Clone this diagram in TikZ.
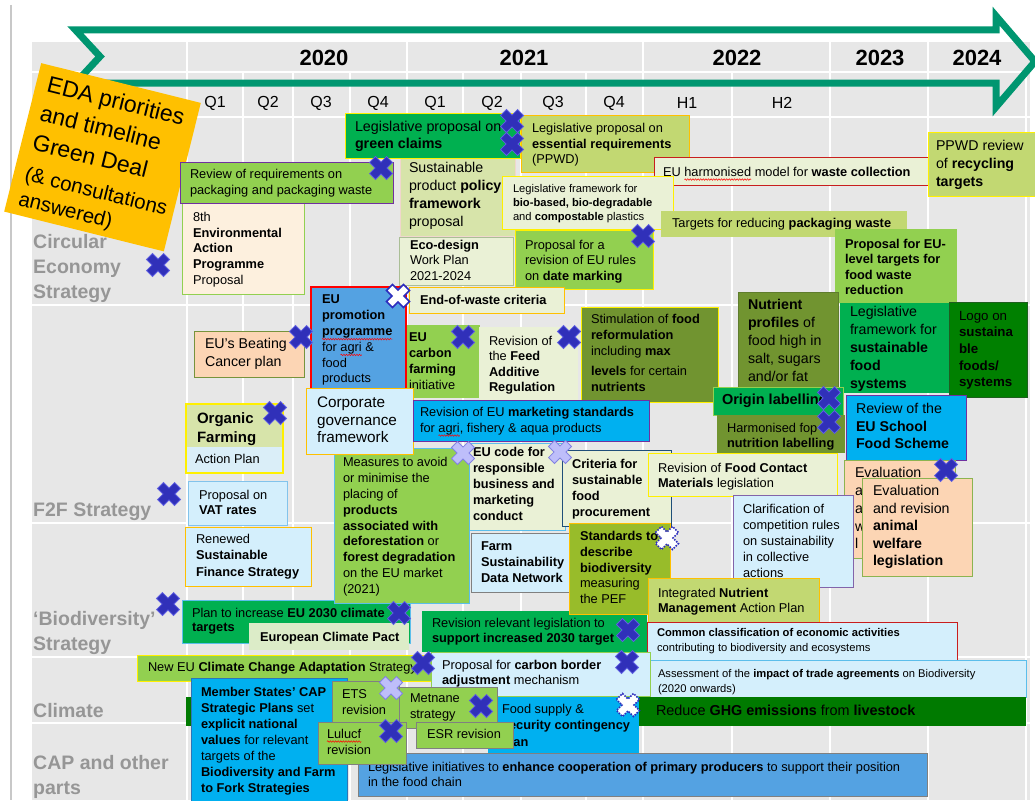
\documentclass[tikz,border=0pt]{standalone}
\usepackage{fontspec}
\setmainfont{Liberation Sans}
\usetikzlibrary{decorations.pathmorphing}
\definecolor{cSide}{RGB}{200,200,200}
\definecolor{cGrid}{RGB}{231,231,231}
\definecolor{cArrow}{RGB}{0,150,112}
\definecolor{cOrange}{RGB}{255,192,0}
\definecolor{cLab}{RGB}{150,150,150}
\definecolor{cG1}{RGB}{146,208,80}
\definecolor{cG2}{RGB}{0,176,80}
\definecolor{cOlive}{RGB}{113,148,48}
\definecolor{cOliveD}{RGB}{95,125,45}
\definecolor{cOliveL}{RGB}{194,216,114}
\definecolor{cOliveB}{RGB}{119,147,60}
\definecolor{cSPP}{RGB}{215,228,170}
\definecolor{cSPPb}{RGB}{240,215,205}
\definecolor{cVL}{RGB}{234,241,214}
\definecolor{cEcoB}{RGB}{170,190,150}
\definecolor{cPact}{RGB}{220,236,200}
\definecolor{cCream}{RGB}{253,240,222}
\definecolor{cPeach}{RGB}{252,213,180}
\definecolor{cEvB}{RGB}{140,180,80}
\definecolor{cCyan}{RGB}{0,176,240}
\definecolor{cBlue}{RGB}{84,162,226}
\definecolor{cLC}{RGB}{212,239,252}
\definecolor{cLCb}{RGB}{218,238,248}
\definecolor{cVatB}{RGB}{130,195,235}
\definecolor{cLB}{RGB}{91,190,235}
\definecolor{cDG}{RGB}{0,128,0}
\definecolor{cDGb}{RGB}{30,95,30}
\definecolor{cGHG}{RGB}{0,122,0}
\definecolor{cStd}{RGB}{152,188,42}
\definecolor{cPurple}{RGB}{112,48,160}
\definecolor{cClarB}{RGB}{130,100,170}
\definecolor{cRed}{RGB}{200,30,30}
\definecolor{cRedB}{RGB}{255,0,0}
\definecolor{cYel}{RGB}{255,240,0}
\definecolor{cOrB}{RGB}{255,192,0}
\definecolor{cCritB}{RGB}{31,78,121}
\definecolor{cMSb}{RGB}{46,117,182}
\definecolor{cGrayB}{RGB}{128,128,128}
\definecolor{cXb}{RGB}{48,48,185}
\definecolor{cXbo}{RGB}{95,95,225}
\definecolor{cXl}{RGB}{190,190,250}
\definecolor{cXlo}{RGB}{130,130,225}
\definecolor{cXwo}{RGB}{45,45,190}
\tikzset{
  tb/.style={rectangle, inner sep=0pt, outer sep=0pt, anchor=north west, line width=0.8pt},
  tx/.style={anchor=north west, inner sep=0pt, outer sep=0pt, align=left, text=black},
  rl/.style={anchor=north west, inner sep=0pt, align=left, text=cLab, font=\bfseries\fontsize{19.5}{25}\selectfont},
  yr/.style={inner sep=0pt, font=\bfseries\fontsize{22}{26}\selectfont},
  qt/.style={inner sep=0pt, font=\fontsize{16}{19}\selectfont},
  edat/.style={anchor=base west, inner sep=0pt, transform shape},
  gridline/.style={white, line width=2.2pt},
  squig/.style={cRedB, line width=0.5pt, decorate, decoration={snake, amplitude=0.8pt, segment length=2.6pt}},
  pics/xmark/.style={code={\path[#1, rotate=45] (-4.2,-12)--(4.2,-12)--(4.2,-4.2)--(12,-4.2)--(12,4.2)--(4.2,4.2)--(4.2,12)--(-4.2,12)--(-4.2,4.2)--(-12,4.2)--(-12,-4.2)--(-4.2,-4.2)--cycle;}},
  xb/.style={fill=cXb, draw=cXbo, line width=0.8pt},
  xl/.style={fill=cXl, draw=cXlo, line width=0.8pt},
  xw/.style={fill=white, draw=cXwo, line width=1.6pt},
  xd/.style={fill=white, draw=cXwo, line width=1.6pt, dash pattern=on 1.5pt off 1.3pt},
}
\newcommand\boxat[6]{\pgfmathsetmacro\bwd{#4-#2}\pgfmathsetmacro\bht{#5-#3}%
  \node[tb,#6,minimum width=\bwd pt,minimum height=\bht pt] (#1) at (#2,#3) {};}
\newcommand\btxt[6]{\node[tx,font=\fontsize{#4}{#5}\selectfont] (#1) at (#2,{#3-0.38*#4}) {#6};}
\newcommand\wavy[4]{\draw[squig] ([shift={(#2,#4)}]#1.north west) -- ([shift={(#3,#4)}]#1.north west);}
\begin{document}
\begin{tikzpicture}[x=1pt,y=-1pt]
\useasboundingbox (0,0) rectangle (1035,800);
\clip (0,0) rectangle (1035,800);
\fill[white] (0,0) rectangle (1035,800);
\draw[cSide, line width=1.2pt] (11,5) -- (11,800);
\fill[cGrid] (32,42) rectangle (1030,800);
\foreach \x in {187,407,643,830,928} \draw[gridline] (\x,42) -- (\x,72);
\foreach \x in {187,243,293,350,407,463,521,586,643,732,830,928,1026} \draw[gridline] (\x,72) -- (\x,800);
\foreach \y in {72,117,305,523,657,723} \draw[gridline] (32,\y) -- (1030,\y);

% years and quarters
\node[yr] (y2020) at (324,58) {2020};
\node[yr] (y2021) at (524,58) {2021};
\node[yr] (y2022) at (737,58) {2022};
\node[yr] (y2023) at (880,58) {2023};
\node[yr] (y2024) at (977,58) {2024};
\node[qt] (qa1) at (215,103) {Q1};
\node[qt] (qa2) at (268,103) {Q2};
\node[qt] (qa3) at (321,103) {Q3};
\node[qt] (qa4) at (378,103) {Q4};
\node[qt] (qb1) at (435,103) {Q1};
\node[qt] (qb2) at (492,103) {Q2};
\node[qt] (qb3) at (553,103) {Q3};
\node[qt] (qb4) at (614,103) {Q4};
\node[qt] (qc1) at (687,103) {H1};
\node[qt] (qc2) at (782,103) {H2};

% arrow
\draw[cArrow, line width=7pt, line join=miter] (75.5,30) -- (996,30) -- (996,16) -- (1035,61.5) -- (996,107) -- (996,83) -- (75.5,83) -- (100,56.5) -- cycle;

% row labels
\node[rl] (lce) at (33,{242-0.38*19.5}) {Circular\\Economy\\Strategy};
\node[rl] (lf2f) at (33,{510-0.38*19.5}) {F2F Strategy};
\node[rl] (lbio) at (33,{619-0.38*19.5}) {‘Biodiversity’\\Strategy};
\node[rl] (lcli) at (33,{711-0.38*19.5}) {Climate};
\node[rl] (lcap) at (33,{763-0.38*19.5}) {CAP and other\\parts};

% orange title card
\begin{scope}[shift={(102.5,157.25)}, rotate=-14]
\node[fill=cOrange, minimum width=164.5pt, minimum height=153pt, inner sep=0pt, transform shape] (eda) at (0,0) {};
\node[edat, font=\fontsize{23}{28}\selectfont] (eda1) at (-71,-49.9) {EDA priorities};
\node[edat, font=\fontsize{23}{28}\selectfont] (eda2) at (-71,-20.5) {and timeline};
\node[edat, font=\fontsize{23}{28}\selectfont] (eda3) at (-71,9.95) {Green Deal};
\node[edat, font=\fontsize{20.5}{25}\selectfont] (eda4) at (-71,41.3) {(\& consultations};
\node[edat, font=\fontsize{20.5}{25}\selectfont] (eda5) at (-71,67.1) {answered)};
\end{scope}

% ---------- Circular economy ----------
\boxat{eap}{182}{203}{304}{294}{fill=cCream,draw=cG1}
\btxt{eapt}{193}{217}{12.8}{15.75}{8th\\\textbf{Environmental}\\\textbf{Action}\\\textbf{Programme}\\Proposal}
\boxat{rev}{180}{162}{393}{203}{fill=cG1,draw=cPurple}
\btxt{revt}{190}{174.5}{12.8}{15.5}{Review of requirements on\\packaging and packaging waste}
\boxat{spp}{400}{158}{515}{236}{fill=cSPP,draw=cSPPb}
\btxt{sppt}{409}{168}{14.2}{18}{Sustainable\\product \textbf{policy}\\\textbf{framework}\\proposal}
\boxat{eco}{399}{237}{513}{285}{fill=cVL,draw=cEcoB}
\btxt{ecot}{410}{245}{12.8}{15.5}{\textbf{Eco-design}\\Work Plan\\2021-2024}
\boxat{gc}{345}{113}{520}{158}{fill=cG2,draw=cYel}
\btxt{gct}{355}{127}{14.3}{17}{Legislative proposal on\\\textbf{green claims}}
\boxat{ess}{521}{115}{689}{172}{fill=cOliveL,draw=cOrB}
\btxt{esst}{532}{128}{12.8}{15.6}{Legislative proposal on\\\textbf{essential requirements}\\(PPWD)}
\boxat{harm}{654}{157}{930}{185}{fill=cVL,draw=cRed}
\btxt{harmt}{663}{172}{12.8}{16}{EU harmonised model for \textbf{waste collection}}
\wavy{harmt}{21.3}{88}{12.4}
\boxat{bio}{502}{176}{673}{229}{fill=cVL,draw=cYel}
\btxt{biot}{513}{189}{11.2}{14}{Legislative framework for\\\textbf{bio-based, bio-degradable}\\and \textbf{compostable} plastics}
\boxat{tgt}{661}{211}{907}{237}{fill=cOliveL}
\btxt{tgtt}{672}{223}{12.8}{16}{Targets for reducing \textbf{packaging waste}}
\boxat{date}{515}{230}{653}{289}{fill=cG1,draw=cYel}
\btxt{datet}{525}{245}{12.8}{15.5}{Proposal for a\\revision of EU rules\\on \textbf{date marking}}
\boxat{eow}{409}{287}{564}{313}{fill=cVL,draw=cOrB}
\btxt{eowt}{420}{300}{12.8}{16}{\textbf{End-of-waste criteria}}
\boxat{ppwd}{928}{132}{1040}{196}{fill=cOliveL,draw=cYel}
\btxt{ppwdt}{936}{146}{14.2}{18}{PPWD review\\of \textbf{recycling}\\\textbf{targets}}
\boxat{sfs}{840}{303}{949}{393}{fill=cG2}
\btxt{sfst}{850}{312}{14.2}{17.8}{Legislative\\framework for\\\textbf{sustainable}\\\textbf{food}\\\textbf{systems}}
\boxat{fw}{835}{229}{957}{303}{fill=cG1}
\btxt{fwt}{845}{244}{12.8}{15.3}{\textbf{Proposal for EU-}\\\textbf{level targets for}\\\textbf{food waste}\\\textbf{reduction}}
\boxat{logo}{949}{302}{1027}{397}{fill=cDG,draw=cDGb}
\btxt{logot}{959}{316}{13.3}{16.7}{Logo on\\\textbf{sustaina}\\\textbf{ble}\\\textbf{foods/}\\\textbf{systems}}

% ---------- F2F ----------
\boxat{canc}{194}{331}{304}{377}{fill=cPeach,draw=cOliveB}
\btxt{canct}{205}{344}{14.2}{18}{EU’s Beating\\Cancer plan}
\boxat{carb}{400}{325}{480}{398}{fill=cG1}
\btxt{carbt}{409}{338}{12.8}{15.7}{\textbf{EU}\\\textbf{carbon}\\\textbf{farming}\\initiative}
\boxat{prom}{311}{287}{406}{392}{fill=cBlue,draw=cRedB,line width=1.2pt}
\btxt{promt}{322}{300}{12.8}{15.8}{\textbf{EU}\\\textbf{promotion}\\\textbf{programme}\\for agri \&\\food\\products}
\wavy{promt}{0}{70.4}{44}
\wavy{promt}{18.5}{39.8}{59.8}
\boxat{feed}{479}{327}{578}{402}{fill=cVL}
\btxt{feedt}{489}{341}{12.8}{15.4}{Revision of\\the \textbf{Feed}\\\textbf{Additive}\\\textbf{Regulation}}
\boxat{stim}{581}{307}{718}{402}{fill=cOlive,draw=cYel}
\btxt{stimt}{591}{319}{12.8}{16}{Stimulation of \textbf{food}\\\textbf{reformulation}\\including \textbf{max}\\[4pt]\textbf{levels} for certain\\\textbf{nutrients}}
\boxat{nut}{738}{292}{838}{387}{fill=cOlive,draw=cOliveD}
\btxt{nutt}{748}{305}{14.2}{18}{\textbf{Nutrient}\\\textbf{profiles} of\\food high in\\salt, sugars\\and/or fat}
\boxat{orig}{713}{387}{843}{415}{fill=cG2,draw=cG1}
\btxt{origt}{722}{399}{14.5}{17}{\textbf{Origin labelling}}
\boxat{fop}{717}{415}{845}{453}{fill=cOlive}
\btxt{fopt}{727}{428}{12.8}{15}{Harmonised fop\\\textbf{nutrition labelling}}
\boxat{school}{846}{395}{966}{460}{fill=cCyan,draw=cPurple}
\btxt{schoolt}{856}{409}{14.2}{17.5}{Review of the\\\textbf{EU School}\\\textbf{Food Scheme}}
\boxat{plan}{182}{600}{410}{643}{fill=cG2,draw=cLB}
\btxt{plant}{192}{613}{12.8}{15}{Plan to increase \textbf{EU 2030 climate}}
\btxt{plant2}{192}{628}{12.8}{15}{\textbf{targets}}
\boxat{defo}{334}{448}{469}{603}{fill=cG1,draw=cLB}
\btxt{defot}{343}{462}{12.8}{15.9}{Measures to avoid\\or minimise the\\placing of\\\textbf{products}\\\textbf{associated with}\\\textbf{deforestation} or\\\textbf{forest degradation}\\on the EU market\\(2021)}
\boxat{corp}{306}{388}{413}{454}{fill=cLC,draw=cOrB}
\btxt{corpt}{317}{403}{15.3}{17.5}{Corporate\\governance\\framework}
\boxat{mkt}{413}{400}{649}{441}{fill=cCyan,draw=cPurple}
\btxt{mktt}{420}{412}{12.8}{16}{Revision of EU \textbf{marketing standards}\\for agri, fishery \& aqua products}
\wavy{mktt}{18.5}{39.8}{28.4}
\boxat{orgA}{186}{404}{283}{447}{fill=cSPP}
\boxat{orgB}{186}{447}{283}{473}{fill=cLCb}
\boxat{org}{186}{404}{283}{473}{draw=cYel,line width=2.2pt}
\btxt{orgt}{197}{418}{15}{19}{\textbf{Organic}\\\textbf{Farming}}
\btxt{orgt2}{195}{459}{12.8}{16}{Action Plan}
\boxat{vat}{188}{481}{287}{525}{fill=cLC,draw=cVatB}
\btxt{vatt}{199}{495}{12.8}{15}{Proposal on\\\textbf{VAT rates}}
\boxat{fin}{185}{527}{311}{586}{fill=cLC,draw=cOrB}
\btxt{fint}{196}{539}{12.8}{16.5}{Renewed\\\textbf{Sustainable}\\\textbf{Finance Strategy}}
\boxat{code}{469}{443}{565}{530}{fill=cVL,draw=cLB}
\btxt{codet}{473}{452}{12.8}{16}{\textbf{EU code for}\\\textbf{responsible}\\\textbf{business and}\\\textbf{marketing}\\\textbf{conduct}}
\boxat{crit}{562}{450}{671}{526}{fill=cVL,draw=cCritB}
\btxt{critt}{572}{464}{12.8}{16}{\textbf{Criteria for}\\\textbf{sustainable}\\\textbf{food}\\\textbf{procurement}}
\boxat{fcm}{648}{453}{837}{496}{fill=cVL,draw=cYel}
\btxt{fcmt}{658}{468}{12.8}{15}{Revision of \textbf{Food Contact}\\\textbf{Materials} legislation}
\boxat{evb}{844}{460}{955}{558}{fill=cPeach,draw=cEvB}
\btxt{evbt}{855}{473}{14.2}{17.7}{Evaluation\\a\\a\\w\\l}
\boxat{clar}{733}{495}{853}{587}{fill=cLC,draw=cClarB}
\btxt{clart}{743}{509}{12.8}{16}{Clarification of\\competition rules\\on sustainability\\in collective\\actions}
\boxat{evf}{862}{478}{972}{576}{fill=cPeach,draw=cEvB}
\btxt{evft}{873}{491}{14.2}{17.5}{Evaluation\\and revision\\\textbf{animal}\\\textbf{welfare}\\\textbf{legislation}}
\boxat{farm}{471}{533}{571}{592}{fill=cLC,draw=cGrayB}
\btxt{farmt}{481}{547}{12.8}{16}{\textbf{Farm}\\\textbf{Sustainability}\\\textbf{Data Network}}
\boxat{rrl}{422}{611}{647}{652}{fill=cG2}
\btxt{rrlt}{432}{623}{12.8}{15}{Revision relevant legislation to\\\textbf{support increased 2030 target}}
\boxat{std}{569}{523}{670}{614}{fill=cStd,draw=cOrB}
\btxt{stdt}{580}{536}{12.8}{16}{\textbf{Standards to}\\\textbf{describe}\\\textbf{biodiversity}}
\btxt{stdt2}{580}{583}{12.8}{16.5}{measuring\\the PEF}
\boxat{inm}{648}{578}{819}{622}{fill=cOliveL,draw=cOrB}
\btxt{inmt}{658}{593}{12.8}{15}{Integrated \textbf{Nutrient}\\\textbf{Management} Action Plan}

% ---------- Biodiversity ----------
\boxat{pact}{249}{623}{409}{650}{fill=cPact}
\btxt{pactt}{260}{637.5}{12.8}{16}{\textbf{European Climate Pact}}
\boxat{ccl}{647}{622}{957}{660}{fill=cLC,draw=cRed}
\btxt{cclt}{657}{633}{11.2}{15}{\textbf{Common classification of economic activities}\\contributing to biodiversity and ecosystems}
\boxat{trade}{649}{660}{1026}{697}{fill=cLC,draw=cLB}
\btxt{tradet}{658}{674}{11.2}{14.5}{Assessment of the \textbf{impact of trade agreements} on Biodiversity\\(2020 onwards)}
\boxat{adapt}{137}{655}{432}{681}{fill=cG1,draw=cYel}
\btxt{adaptt}{148}{667}{12.8}{16}{New EU \textbf{Climate Change Adaptation} Strategy}
\boxat{cbam}{431}{652}{650}{696}{fill=cLC,draw=cG1}
\btxt{cbamt}{442}{665}{12.8}{15}{Proposal for \textbf{carbon border}\\\textbf{adjustment} mechanism}

% ---------- Climate / CAP ----------
\boxat{ghg}{186}{697}{1026}{726}{fill=cGHG}
\btxt{ghgt}{656}{711}{14.4}{17}{Reduce \textbf{GHG emissions} from \textbf{livestock}}
\boxat{ms}{191}{678}{347}{810}{fill=cCyan,draw=cMSb}
\btxt{mst}{201}{692}{12.8}{16}{\textbf{Member States’ CAP}\\\textbf{Strategic Plans} set\\\textbf{explicit national}\\\textbf{values} for relevant\\targets of the}
\btxt{mst2}{201}{772}{12.8}{16}{\textbf{Biodiversity and Farm}\\\textbf{to Fork Strategies}}
\boxat{coop}{358}{753}{927}{796}{fill=cBlue,draw=cGrayB}
\btxt{coopt}{368}{767}{12.8}{15}{Legislative initiatives to \textbf{enhance cooperation of primary producers} to support their position\\in the food chain}
\boxat{food}{488}{697}{639}{753}{fill=cCyan}
\btxt{foodt}{502}{709}{12.8}{16.5}{Food supply \&\\\textbf{security contingency}\\\textbf{plan}}
\boxat{meth}{399}{687}{497}{728}{fill=cG1,draw=cGrayB}
\btxt{metht}{410}{699}{12.8}{16}{Metnane\\strategy}
\boxat{esr}{416}{722}{513}{748}{fill=cG1,draw=cGrayB}
\btxt{esrt}{427}{734}{12.8}{16}{ESR revision}
\boxat{ets}{332}{681}{399}{723}{fill=cG1,draw=cGrayB}
\btxt{etst}{342}{694}{12.8}{16}{ETS\\revision}
\boxat{lulu}{318}{722}{406}{764}{fill=cG1,draw=cGrayB}
\btxt{lulut}{327}{734}{12.8}{16}{Lulucf\\revision}
\wavy{lulut}{0}{34.2}{12.4}

% ---------- markers ----------
\foreach \p in {(158,265),(381,168),(512,121),(512,144),(643,236),(301,337),(275,413),(169,494),(463,337),(569,337),(829,398),(829,422),(946,470),(168,604),(399,613),(628,630),(423,663),(627,662),(481,706),(391,731)}
  \pic at \p {xmark=xb};
\foreach \p in {(463,453),(560,452),(391,688)}
  \pic at \p {xmark=xl};
\pic at (398,296) {xmark=xw};
\pic at (667,538) {xmark=xd};
\pic at (628,705) {xmark=xd};
\end{tikzpicture}
\end{document}
